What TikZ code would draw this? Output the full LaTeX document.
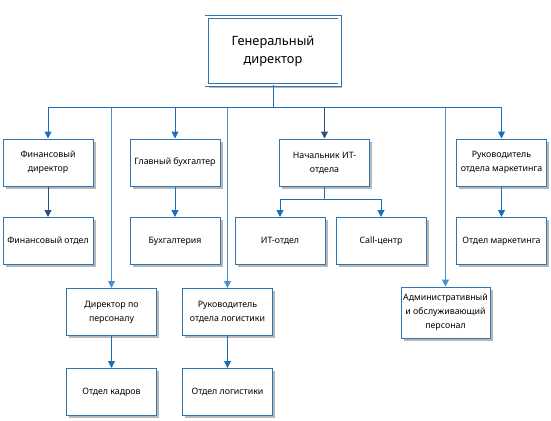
\documentclass[tikz,border=0pt]{standalone}
\usepackage{fontspec}
\setmainfont{Noto Sans}
\usetikzlibrary{arrows.meta}
\definecolor{boxblue}{HTML}{2E75B6}
\definecolor{linblue}{HTML}{1C6EBA}
\definecolor{dkblue}{HTML}{2F4F7F}
\definecolor{ltblue}{HTML}{4A90D0}
\newcommand\orgbx[4][]{%
  \node[box,#1,draw=none,double=none,fill=black!28,shift={(2.5,2.5)}] (#2-s) at (#3) {};
  \node[box,#1] (#2) at (#3) {#4};}
\begin{document}
\begin{tikzpicture}[x=1pt,y=-1pt,
  box/.style={draw=boxblue,line width=1pt,fill=white,minimum width=90pt,minimum height=47pt,
    align=center,inner sep=1pt,font=\fontsize{8.8}{14}\selectfont},
  rootbox/.style={draw=boxblue,line width=0.8pt,double=white,double distance=2.4pt,fill=white,
    minimum width=133pt,minimum height=68pt,align=center,font=\fontsize{12.8}{18}\selectfont},
  arr/.style={draw=linblue,line width=1pt,-{Triangle[width=7pt,length=7pt]}},
  darr/.style={draw=dkblue,line width=1pt,-{Triangle[width=7pt,length=7pt]}},
  larr/.style={draw=ltblue,line width=1pt,-{Triangle[width=7pt,length=7pt]}}]
\useasboundingbox (0,0) rectangle (551,420);
\orgbx[rootbox]{root}{273,51}{Генеральный\\директор}
\coordinate (bus) at (273,107.5);
\coordinate (itbus) at (325,199.5);

\orgbx{fd}{48,162.5}{Финансовый\\директор}
\orgbx{gb}{175,162.5}{Главный бухгалтер}
\orgbx{nit}{324.5,162.5}{Начальник ИТ-\\отдела}
\orgbx{rm}{501.5,162.5}{Руководитель\\отдела маркетинга}

\orgbx{fo}{48,241}{Финансовый отдел}
\orgbx{bu}{175,241}{Бухгалтерия}
\orgbx{it}{280,241}{ИТ-отдел}
\orgbx{cc}{381,241}{Call-центр}
\orgbx{om}{501.5,241}{Отдел маркетинга}

\orgbx{dp}{111.5,312}{Директор по\\персоналу}
\orgbx{rl}{227.5,312}{Руководитель\\отдела логистики}
\orgbx[minimum height=51pt,minimum width=89pt]{ao}{445.5,312.5}{Административный\\и обслуживающий\\персонал}

\orgbx{ok}{111.5,392}{Отдел кадров}
\orgbx{ol}{227.5,392}{Отдел логистики}

\draw[larr] (root.south) -- (root.south|-bus) -| (dp.north);
\draw[larr] (root.south) -- (root.south|-bus) -| (rl.north);
\draw[larr] (root.south) -- (root.south|-bus) -| (ao.north);
\draw[arr] (root.south) -- (root.south|-bus) -| (fd.north);
\draw[arr] (root.south) -- (root.south|-bus) -| (gb.north);
\draw[darr] (root.south) -- (root.south|-bus) -| (nit.north);
\draw[arr] (root.south) -- (root.south|-bus) -| (rm.north);

\draw[darr] (fd) -- (fo);
\draw[arr] (gb) -- (bu);
\draw[arr] (rm) -- (om);
\draw[arr] (dp) -- (ok);
\draw[arr] (rl) -- (ol);
\draw[arr] (nit.south) -- (nit.south|-itbus) -| (it.north);
\draw[arr] (nit.south) -- (nit.south|-itbus) -| (cc.north);
\end{tikzpicture}
\end{document}
